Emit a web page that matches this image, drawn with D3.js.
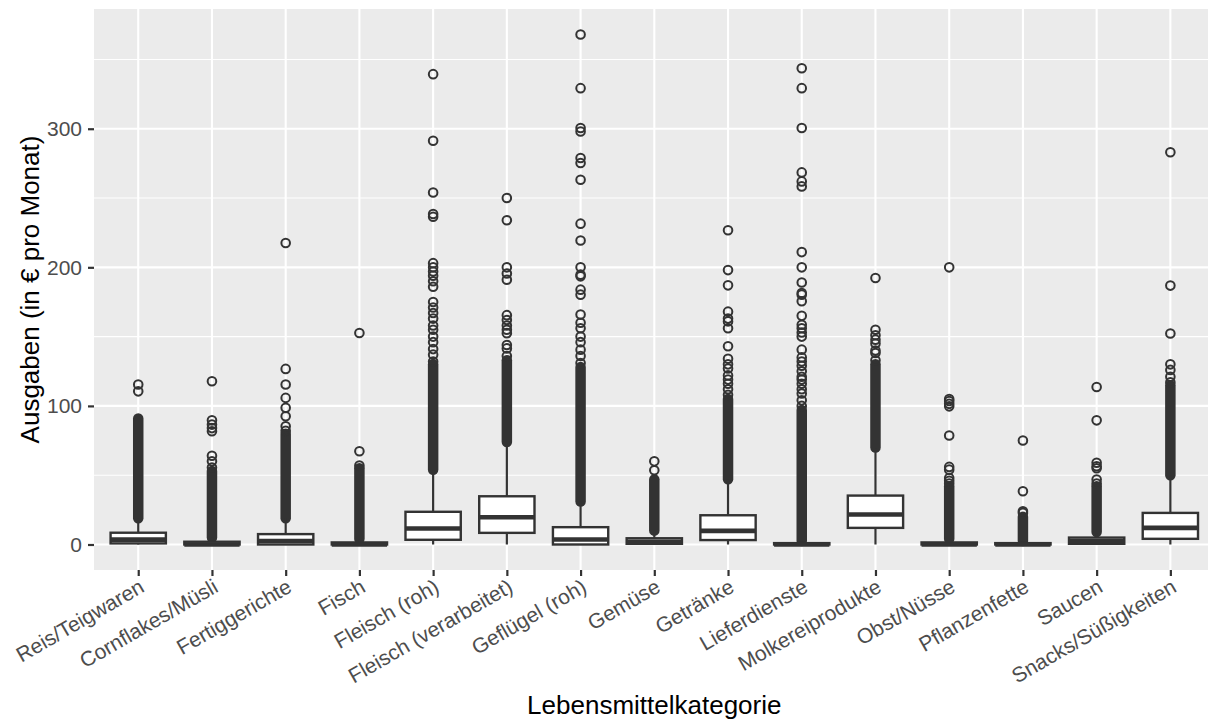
<!DOCTYPE html>
<html>
<head>
<meta charset="utf-8">
<script src="https://cdn.jsdelivr.net/npm/d3@7"></script>
<style>
    body { margin: 0; background: #ffffff; }
    svg { display: block; font-family: "Liberation Sans", Arial, Helvetica, sans-serif; }
</style>
</head>
<body>
<div id="chart"></div>
<script>
// categories on the x axis
const categories = [
    "Reis/Teigwaren", "Cornflakes/Müsli", "Fertiggerichte", "Fisch", "Fleisch (roh)",
    "Fleisch (verarbeitet)", "Geflügel (roh)", "Gemüse", "Getränke", "Lieferdienste",
    "Molkereiprodukte", "Obst/Nüsse", "Pflanzenfette", "Saucen", "Snacks/Süßigkeiten"
];

// box statistics (€ per month)
const whiskerLow  = [0, 0, 0, 0, 0, 0, 0, 0, 0, 0, 0, 0, 0, 0, 0];
const q1          = [0.8, 0, 0, 0, 3.4, 8.4, 0, 0.5, 3.2, 0, 12, 0, 0, 0.5, 4.1];
const median      = [3.5, 0, 2.5, 0, 11.5, 19.7, 3.6, 2, 9.8, 0, 21.6, 0, 0, 2.5, 12];
const q3          = [8.5, 2, 7.5, 1.5, 23.6, 34.8, 12.5, 4.5, 21.1, 1, 35.3, 1.5, 1, 5, 22.8];
const whiskerHigh = [19, 5, 18.5, 3.5, 53.5, 73, 31, 10, 47, 2.5, 69, 3.5, 2.5, 8, 50];

// ranges where outliers are so dense they merge into a solid column
const denseLow  = [19, 5, 19, 4, 54, 74, 31, 10, 47, 2.5, 70, 4, 2.5, 9, 50];
const denseHigh = [91, 53, 80, 55, 130, 133, 128, 47, 105, 97, 130, 42, 20, 42, 115];

// individual outliers above the dense columns
const outliers = [
    [110.5, 115.4],
    [55.5, 60, 64, 81.7, 84, 86.5, 89.6, 117.8],
    [82, 85.3, 92.5, 98.6, 105.8, 115.4, 126.7, 217.5],
    [57, 67.3, 152.6],
    [132, 137, 141, 146, 150, 155, 158, 163, 167, 171, 175, 186, 190, 194, 197, 200, 203, 236.5, 238.5, 254, 291.3, 339.4],
    [136, 141.5, 144, 152.5, 155, 158, 162, 165.5, 191, 195.5, 200, 234, 250],
    [131, 136, 140.6, 146, 150, 156, 160, 165.9, 180.3, 183.9, 193.5, 194.7, 200, 219.4, 231.5, 263.2, 275.3, 278.9, 298, 300.5, 329.3, 368],
    [53.6, 60],
    [108, 112, 116, 119, 122, 127, 130, 134, 143, 156, 161, 163, 168, 187, 198, 226.7],
    [100, 104, 109, 112, 116, 119, 121, 125, 129, 132, 135, 140.6, 150, 153, 156, 158.6, 165, 175.5, 180.3, 181.5, 189, 200, 211, 258.4, 262, 268.5, 300.5, 329.3, 343.7],
    [133, 138.2, 140, 145, 147.8, 151, 155, 192.3],
    [44, 46, 48, 54, 56, 78.6, 99.7, 101.5, 103.5, 105, 200],
    [22.8, 24, 38.4, 75],
    [44, 46.9, 55, 56.5, 59, 89.6, 113.7],
    [117, 121, 126, 130, 152.3, 186.8, 283]
];

const yTicks = [0, 100, 200, 300];
const yMinorTicks = [50, 150, 250, 350];

const svgWidth = 1208;
const svgHeight = 726;
const panelLeft = 94;
const panelRight = 1214.6;
const panelTop = 9;
const panelBottom = 570;

const data = categories.map((c, i) => ({
    name: c,
    lo: whiskerLow[i], q1: q1[i], med: median[i], q3: q3[i], hi: whiskerHigh[i],
    dLo: denseLow[i], dHi: denseHigh[i],
    out: outliers[i]
}));

const svg = d3.select("#chart")
    .append("svg")
    .attr("width", svgWidth)
    .attr("height", svgHeight);

const xScale = d3.scalePoint()
    .domain(categories)
    .range([panelLeft, panelRight])
    .padding(0.6);

const yScale = d3.scaleLinear()
    .domain([-18.4, 386.4])
    .range([panelBottom, panelTop]);

const boxWidth = xScale.step() * 0.75;
const dark = "#333333";

// panel background
svg.append("rect")
    .attr("x", panelLeft)
    .attr("y", panelTop)
    .attr("width", panelRight - panelLeft)
    .attr("height", panelBottom - panelTop)
    .attr("fill", "#ebebeb");

// grid
svg.append("g").selectAll("line")
    .data(yMinorTicks)
    .join("line")
    .attr("x1", panelLeft).attr("x2", panelRight)
    .attr("y1", d => yScale(d)).attr("y2", d => yScale(d))
    .attr("stroke", "white").attr("stroke-width", 1.1);

svg.append("g").selectAll("line")
    .data(yTicks)
    .join("line")
    .attr("x1", panelLeft).attr("x2", panelRight)
    .attr("y1", d => yScale(d)).attr("y2", d => yScale(d))
    .attr("stroke", "white").attr("stroke-width", 2.1);

svg.append("g").selectAll("line")
    .data(categories)
    .join("line")
    .attr("x1", d => xScale(d)).attr("x2", d => xScale(d))
    .attr("y1", panelTop).attr("y2", panelBottom)
    .attr("stroke", "white").attr("stroke-width", 2.1);

// boxplots
const groups = svg.append("g").selectAll("g")
    .data(data)
    .join("g")
    .attr("transform", d => `translate(${xScale(d.name)},0)`);

// dense outlier columns
groups.append("line")
    .attr("x1", 0).attr("x2", 0)
    .attr("y1", d => yScale(d.dLo))
    .attr("y2", d => yScale(d.dHi))
    .attr("stroke", dark)
    .attr("stroke-width", 10.5)
    .attr("stroke-linecap", "round");

// single outliers
groups.selectAll("circle")
    .data(d => d.out)
    .join("circle")
    .attr("cx", 0)
    .attr("cy", d => yScale(d))
    .attr("r", 4.3)
    .attr("fill", "none")
    .attr("stroke", dark)
    .attr("stroke-width", 2);

// whiskers
groups.append("line")
    .attr("x1", 0).attr("x2", 0)
    .attr("y1", d => yScale(d.q3)).attr("y2", d => yScale(d.hi))
    .attr("stroke", dark).attr("stroke-width", 2.2);

groups.append("line")
    .attr("x1", 0).attr("x2", 0)
    .attr("y1", d => yScale(d.q1)).attr("y2", d => yScale(d.lo))
    .attr("stroke", dark).attr("stroke-width", 2.2);

// box
groups.append("rect")
    .attr("x", -boxWidth / 2)
    .attr("y", d => yScale(d.q3))
    .attr("width", boxWidth)
    .attr("height", d => yScale(d.q1) - yScale(d.q3))
    .attr("fill", "white")
    .attr("stroke", dark)
    .attr("stroke-width", 2.4);

// median
groups.append("line")
    .attr("x1", -boxWidth / 2).attr("x2", boxWidth / 2)
    .attr("y1", d => yScale(d.med)).attr("y2", d => yScale(d.med))
    .attr("stroke", dark).attr("stroke-width", 4.6);

// y axis
const yAxisGroup = svg.append("g")
    .attr("transform", `translate(${panelLeft},0)`)
    .call(d3.axisLeft(yScale).tickValues(yTicks).tickSize(6).tickPadding(6));

yAxisGroup.select(".domain").remove();
yAxisGroup.selectAll("line").attr("stroke", dark).attr("stroke-width", 2.2);
yAxisGroup.selectAll("text")
    .attr("fill", "#4d4d4d")
    .attr("font-size", "21px")
    .attr("font-family", "Liberation Sans, Arial, sans-serif");

// x axis
const xAxisGroup = svg.append("g")
    .attr("transform", `translate(0,${panelBottom})`)
    .call(d3.axisBottom(xScale).tickSize(6).tickPadding(0));

xAxisGroup.select(".domain").remove();
xAxisGroup.selectAll("line").attr("stroke", dark).attr("stroke-width", 2.2);
xAxisGroup.selectAll("text")
    .attr("fill", "#4d4d4d")
    .attr("font-size", "21px")
    .attr("font-family", "Liberation Sans, Arial, sans-serif")
    .attr("text-anchor", "end")
    .attr("y", 0)
    .attr("dy", 0)
    .attr("transform", "translate(7,21) rotate(-30)");

// axis titles
svg.append("text")
    .attr("x", (panelLeft + panelRight) / 2)
    .attr("y", 714)
    .attr("text-anchor", "middle")
    .attr("font-size", "26px")
    .attr("fill", "black")
    .text("Lebensmittelkategorie");

svg.append("text")
    .attr("transform", `translate(39,${(panelTop + panelBottom) / 2}) rotate(-90)`)
    .attr("text-anchor", "middle")
    .attr("font-size", "26px")
    .attr("fill", "black")
    .text("Ausgaben (in € pro Monat)");
</script>
</body>
</html>
